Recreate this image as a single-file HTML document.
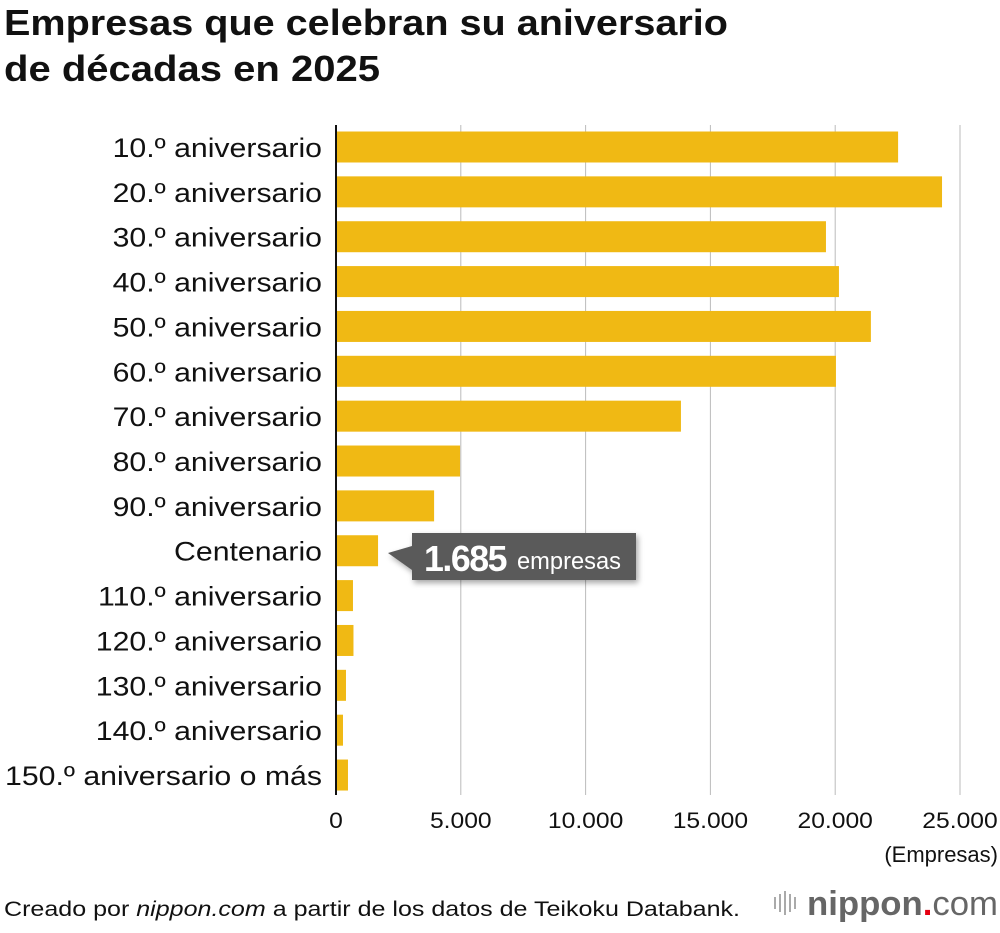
<!DOCTYPE html>
<html><head><meta charset="utf-8"><style>
body{margin:0;background:#fff;width:1000px;height:928px;overflow:hidden;font-family:"Liberation Sans",sans-serif}
</style></head><body>
<svg width="1000" height="928" xmlns="http://www.w3.org/2000/svg">
<defs><filter id="sh" x="-10%" y="-20%" width="130%" height="150%"><feDropShadow dx="2" dy="3" stdDeviation="3" flood-opacity="0.35"/></filter></defs>
<text x="4" y="35" font-size="36" font-weight="bold" fill="#111" textLength="724" lengthAdjust="spacingAndGlyphs">Empresas que celebran su aniversario</text>
<text x="4" y="81" font-size="36" font-weight="bold" fill="#111" textLength="376" lengthAdjust="spacingAndGlyphs">de décadas en 2025</text>
<g id="grid"></g><g id="bars"></g><g id="labels"></g><g id="ticks"></g>
<line x1="336" y1="125" x2="336" y2="795" stroke="#111" stroke-width="2"/>
<g filter="url(#sh)">
<polygon points="412,533 636,533 636,580 412,580 412,570 388,553 412,546" fill="#5a5a5a"/>
</g>
<text x="424" y="571" font-size="36" font-weight="bold" fill="#fff" letter-spacing="-1.5" textLength="82" lengthAdjust="spacingAndGlyphs">1.685</text>
<text x="517" y="569" font-size="24" fill="#fff" textLength="104" lengthAdjust="spacingAndGlyphs">empresas</text>
<text x="998" y="862" text-anchor="end" font-size="22" fill="#111">(Empresas)</text>
<text x="4" y="916" font-size="21" fill="#111" textLength="736" lengthAdjust="spacingAndGlyphs">Creado por <tspan font-style="italic">nippon.com</tspan> a partir de los datos de Teikoku Databank.</text>
<g>
<rect x="774" y="897" width="2" height="12" fill="#aaa"/><rect x="779" y="894" width="2" height="18" fill="#aaa"/><rect x="784" y="891" width="2" height="24" fill="#aaa"/><rect x="789" y="894" width="2" height="18" fill="#aaa"/><rect x="794" y="897" width="2" height="12" fill="#aaa"/>
<text x="807" y="915" font-size="34" font-weight="bold" fill="#666" textLength="191" lengthAdjust="spacingAndGlyphs">nippon<tspan fill="#e60012">.</tspan><tspan font-weight="normal">com</tspan></text>
</g>
</svg>
<script>
const categories=["10.º aniversario","20.º aniversario","30.º aniversario","40.º aniversario","50.º aniversario","60.º aniversario","70.º aniversario","80.º aniversario","90.º aniversario","Centenario","110.º aniversario","120.º aniversario","130.º aniversario","140.º aniversario","150.º aniversario o más"];
const values=[22520,24280,19630,20150,21430,20030,13820,4970,3930,1685,680,700,400,280,480];
const tickValues=[0,5000,10000,15000,20000,25000];
const tickLabels=["0","5.000","10.000","15.000","20.000","25.000"];
const NS="http://www.w3.org/2000/svg";
const x=v=>336+v*(624/25000);
const yc=i=>147+i*44.86;
function mk(t,a,p){const e=document.createElementNS(NS,t);for(const k in a)e.setAttribute(k,a[k]);document.getElementById(p).appendChild(e);return e;}
function stretch(t,f){const w=t.getComputedTextLength();t.setAttribute('textLength',w*f);t.setAttribute('lengthAdjust','spacingAndGlyphs');}
tickValues.forEach((v,i)=>{
  if(v>0){const g=mk('line',{x1:x(v),x2:x(v),y1:125,y2:795,stroke:'#bbb','stroke-width':1},'grid');
  
  }
  const t=mk('text',{x:x(v),y:828,'text-anchor':'middle','font-size':22,fill:'#111'},'ticks');
  
  
  t.textContent=tickLabels[i];
  stretch(t,1.12);
});
categories.forEach((c,i)=>{
  const b=mk('rect',{x:336,y:yc(i)-15.5,width:x(values[i])-336,height:31,fill:'#f0b914'},'bars');
  
  
  const t=mk('text',{x:322,y:yc(i)+10,'text-anchor':'end','font-size':27,fill:'#111'},'labels');
  
  
  t.textContent=c;
  stretch(t,1.12);
});
</script>
</body></html>
